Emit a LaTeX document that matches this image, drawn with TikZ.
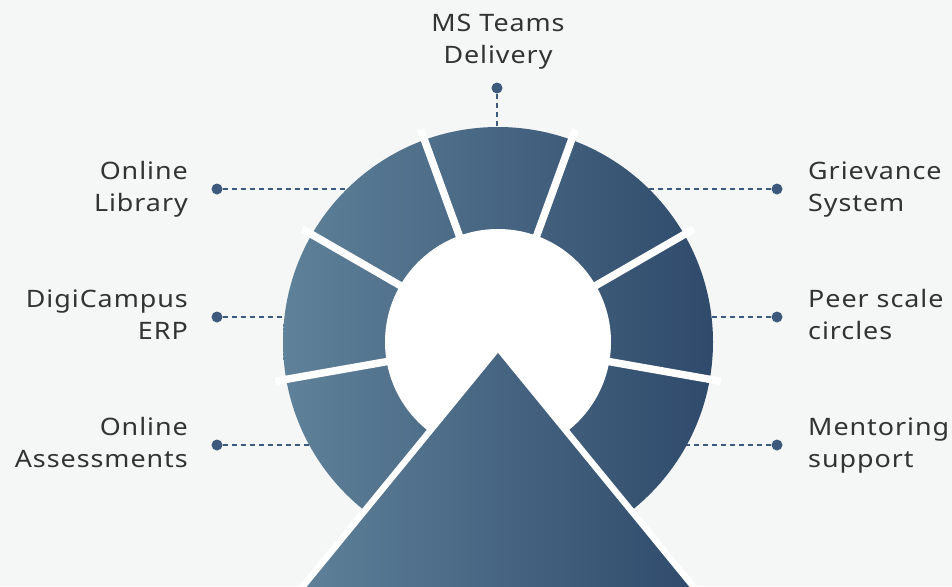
\documentclass[tikz,border=0pt]{standalone}
\usepackage{fontspec}
\setmainfont[FakeStretch=1.12,LetterSpace=4]{Noto Sans}
\definecolor{bg}{HTML}{F5F6F6}
\definecolor{ringL}{HTML}{5F8199}
\definecolor{ringR}{HTML}{2F4A6B}
\definecolor{dotc}{HTML}{3D5A7D}
\definecolor{txt}{HTML}{333333}
\newcommand{\twoline}[2]{\rule{0pt}{19pt}#1\\#2\rule[-6pt]{0pt}{6pt}}
\begin{document}
\begin{tikzpicture}[x=1pt,y=-1pt,
  dotnode/.style={circle,fill=dotc,inner sep=0pt,minimum size=11pt},
  conn/.style={draw=dotc,line width=1.1pt,dash pattern=on 5pt off 4pt},
  sepbar/.style={draw=white,line width=7.5pt},
  lbl/.style={inner sep=0pt,text=txt,font=\fontsize{24}{32}\selectfont},
  lblL/.style={lbl,anchor=east,align=right},
  lblR/.style={lbl,anchor=west,align=left},
  lblT/.style={lbl,anchor=center,align=center},
  tri/.style={left color=ringL,right color=ringR}]
\fill[bg] (0,0) rectangle (952,586);
\useasboundingbox (0,0) rectangle (952,586);
\clip (0,0) rectangle (952,586);

% dots and connectors
\node[dotnode] (d0) at (497,88) {};
\node[dotnode] (dl1) at (217,189) {};
\node[dotnode] (dl2) at (217,317) {};
\node[dotnode] (dl3) at (217,445) {};
\node[dotnode] (dr1) at (777,189) {};
\node[dotnode] (dr2) at (777,317) {};
\node[dotnode] (dr3) at (777,445) {};
\coordinate (e0) at (497,135);
\coordinate (el1) at (352,189);
\coordinate (el2) at (290,317);
\coordinate (el3) at (315,445);
\coordinate (er1) at (644,189);
\coordinate (er2) at (706,317);
\coordinate (er3) at (681,445);
\draw[conn] (d0) -- (e0);
\draw[conn] (dl1) -- (el1);
\draw[conn] (dl2) -- (el2);
\draw[conn] (dl3) -- (el3);
\draw[conn] (dr1) -- (er1);
\draw[conn] (dr2) -- (er2);
\draw[conn] (dr3) -- (er3);

% ring
\coordinate (c) at (498,342);
\shade[left color=ringL,right color=ringR] (c) circle (215);
\fill[white] (c) circle (113);
\foreach \a in {-70,-110,-150,-190,-30,10}
  \draw[sepbar] ([shift={(c)}]\a:100) -- ([shift={(c)}]\a:226);

% triangle
\draw[white,line width=13pt,line join=miter] (498,353) -- (296,600) -- (700,600) -- cycle;
\shade[tri] (498,353) -- (296,600) -- (700,600) -- cycle;

% labels
\node[lblT] (t0) at (498,41) {\twoline{MS Teams}{Delivery}};
\node[lblL] (tl1) at (188,189) {\twoline{Online}{Library}};
\node[lblL] (tl2) at (188,317) {\twoline{DigiCampus}{ERP}};
\node[lblL] (tl3) at (188,445) {\twoline{Online}{Assessments}};
\node[lblR] (tr1) at (808,189) {\twoline{Grievance}{System}};
\node[lblR] (tr2) at (808,317) {\twoline{Peer scale}{circles}};
\node[lblR] (tr3) at (808,445) {\twoline{Mentoring}{support}};
\end{tikzpicture}
\end{document}
